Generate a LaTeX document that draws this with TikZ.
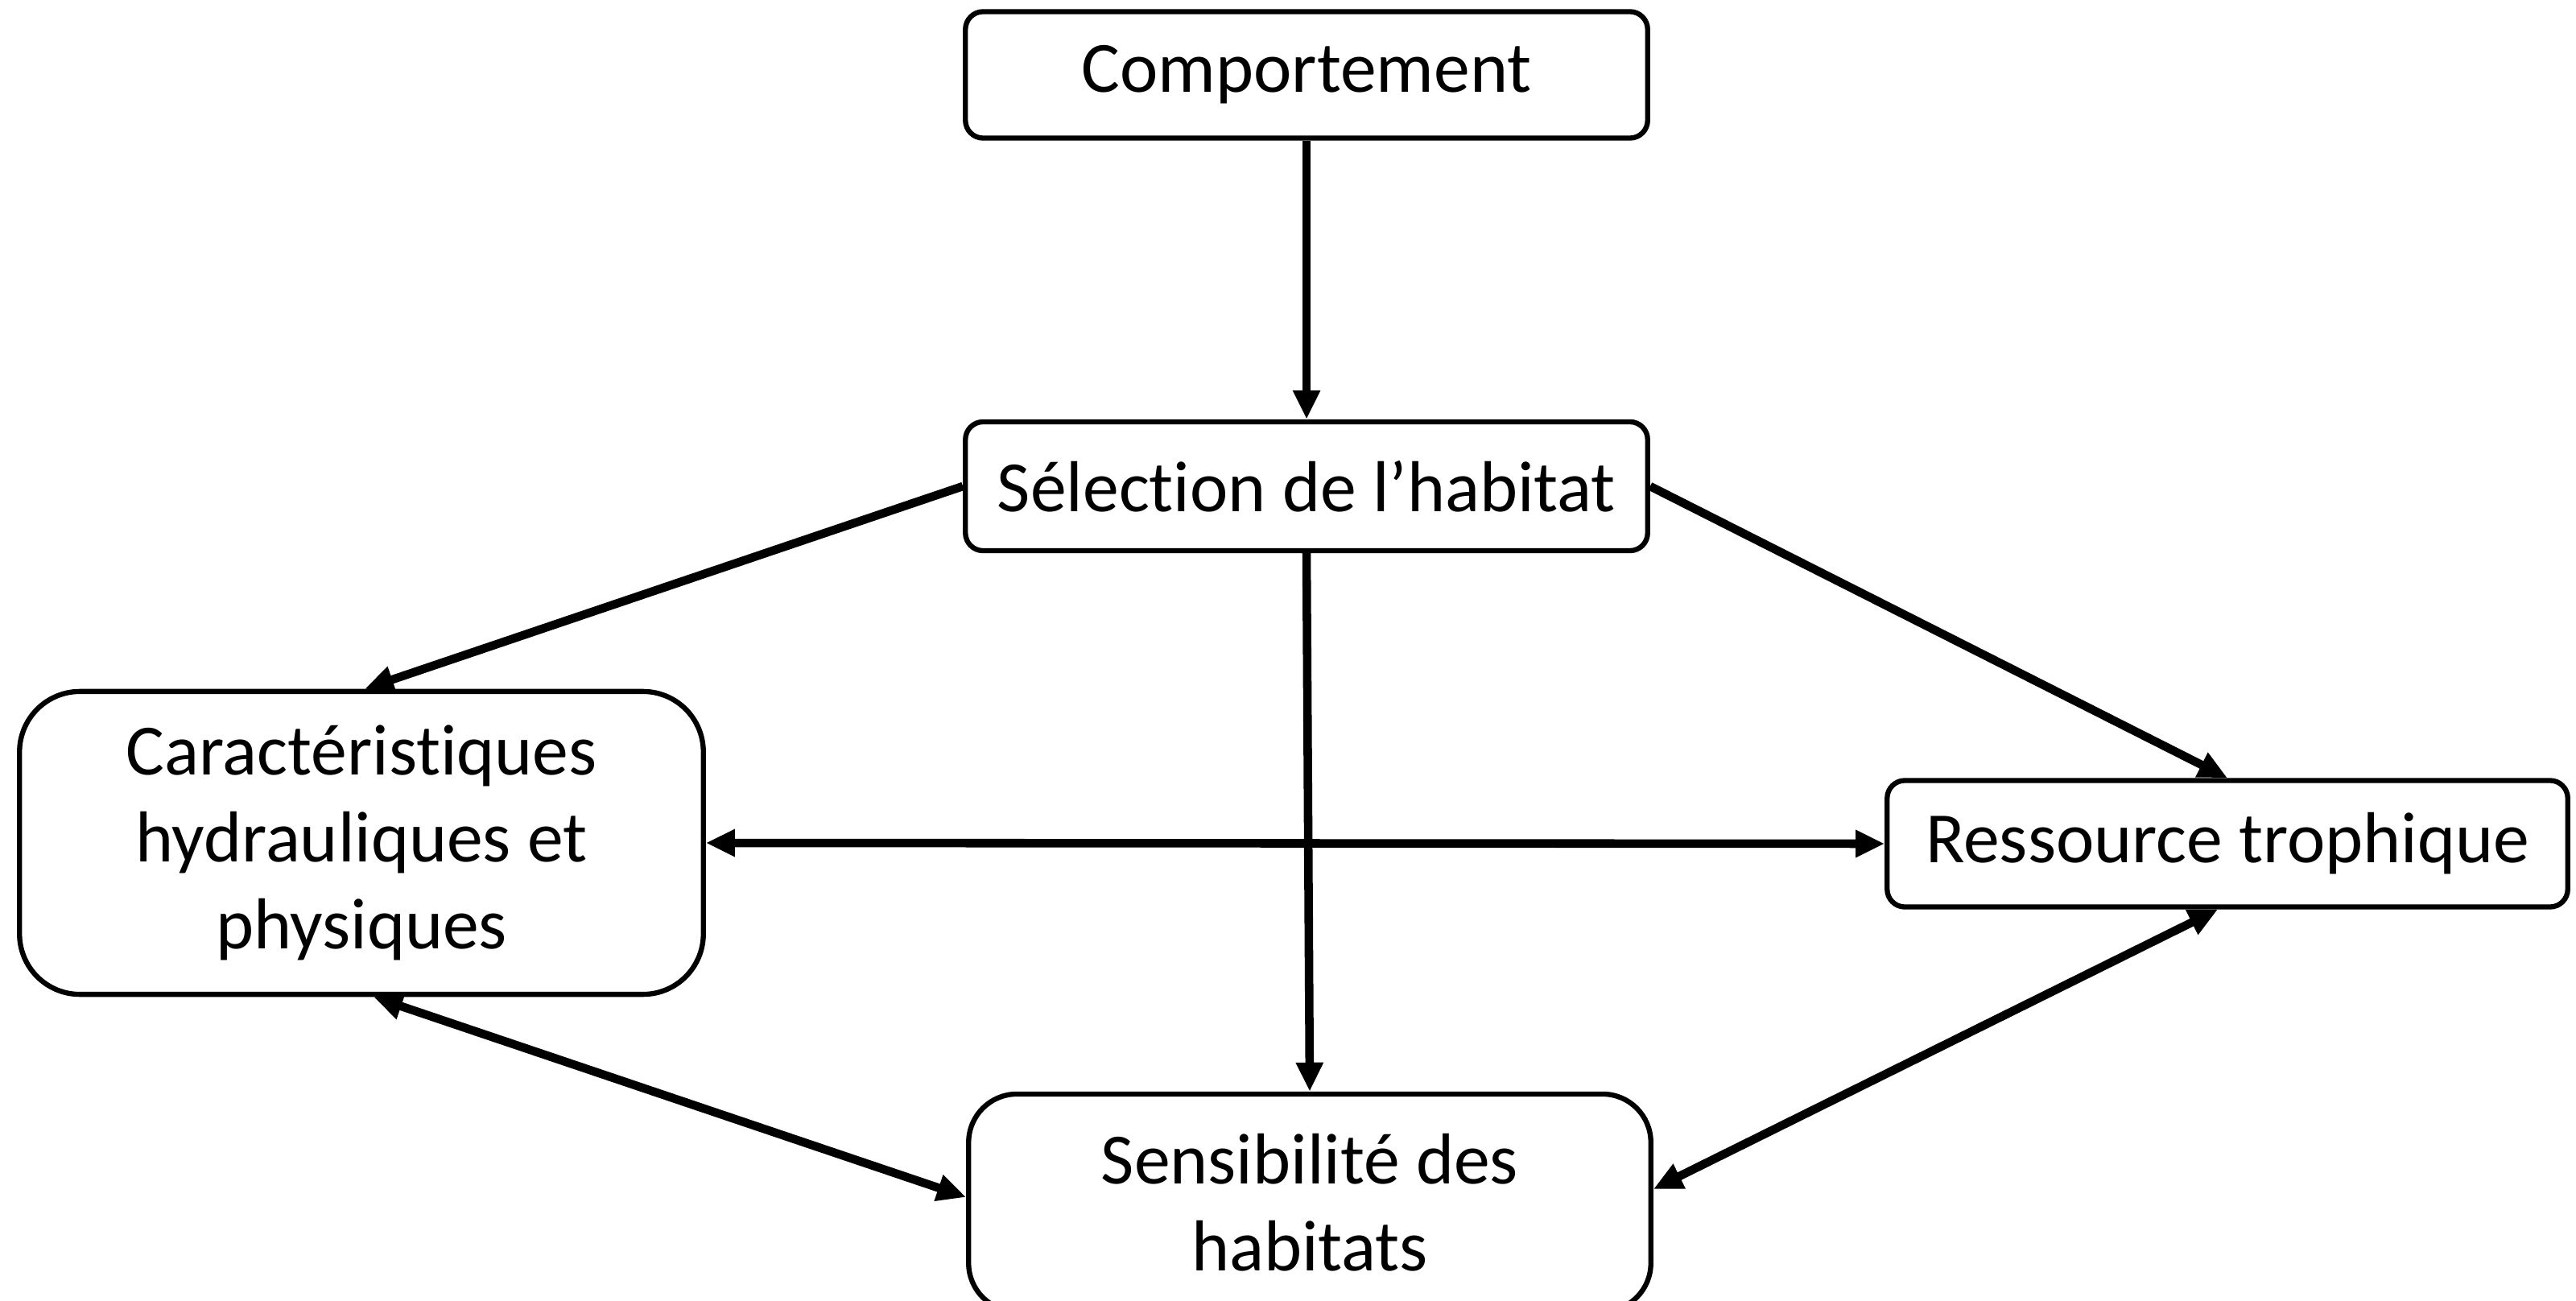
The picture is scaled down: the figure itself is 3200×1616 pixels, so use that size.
\documentclass[tikz,border=0pt]{standalone}
\usepackage{fontspec}
\setmainfont{Carlito}[RawFeature={-liga;-clig;-dlig}]
\usetikzlibrary{arrows.meta}

\begin{document}
\begin{tikzpicture}[x=0.01cm,y=-0.01cm,
  box/.style={draw=black, line width=1.8pt, fill=white, align=center,
    inner sep=0pt, font=\fontsize{25.5}{30.7}\selectfont},
  link/.style={line width=3pt, draw=black,
    -{Triangle[length=0.36cm,width=0.32cm]}},
  twoway/.style={line width=3pt, draw=black,
    {Triangle[length=0.36cm,width=0.32cm]}-{Triangle[length=0.36cm,width=0.32cm]}}
]
\useasboundingbox (0,0) rectangle (3200,1616);

% boxes
\node[box, rounded corners=0.22cm, minimum width=8.47cm, minimum height=1.57cm]
  (comp) at (1623,93) {Comportement};
\node[box, rounded corners=0.22cm, minimum width=8.47cm, minimum height=1.6cm]
  (sel) at (1623,604) {Sélection de l’habitat};
\node[box, rounded corners=0.75cm, minimum width=8.49cm, minimum height=3.76cm]
  (car) at (449,1047) {Caractéristiques\\hydrauliques et\\physiques};
\node[box, rounded corners=0.22cm, minimum width=8.45cm, minimum height=1.57cm]
  (res) at (2767,1048) {Ressource trophique};
\node[box, rounded corners=0.6cm, minimum width=8.47cm, minimum height=2.7cm]
  (sens) at (1627,1494) {Sensibilité des\\habitats};

% one-way links from the top
\draw[link] (comp.south) -- (sel.north);
\draw[link] (sel.west) -- ([xshift=0.04cm]car.north);
\draw[link] (sel.east) -- (res.north);
\draw[link] (sel.south) -- (sens.north);

% two-way links
\draw[twoway] (car.east) -- (res.west);
\draw[twoway] ([xshift=0.15cm]car.south) -- ([yshift=0.07cm]sens.west);
\draw[twoway] ([xshift=-0.12cm]res.south) -- ([yshift=0.17cm]sens.east);
\end{tikzpicture}
\end{document}
